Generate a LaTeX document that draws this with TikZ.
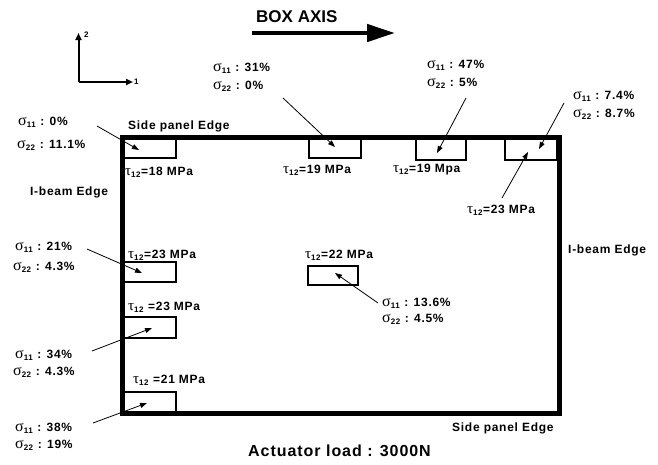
\documentclass[tikz,border=0pt]{standalone}
\usepackage{fontspec}
\setmainfont{Liberation Sans}
\newfontfamily\lblfont{Liberation Sans}[LetterSpace=6]
\newfontfamily\bigfont{Liberation Sans}[LetterSpace=6]
\newfontfamily\grk{Liberation Serif}
\usetikzlibrary{arrows.meta}
\newcommand\sgm[1]{{\mdseries\grk\fontsize{16}{16}\selectfont σ}\textsubscript{#1}}
\newcommand\tauu[1]{{\mdseries\grk\fontsize{15}{15}\selectfont τ}\textsubscript{#1}}
\tikzset{
  lbl/.style={anchor=west,inner sep=0pt,font=\lblfont\bfseries\fontsize{12}{13}\selectfont},
  sbox/.style={draw,line width=2pt,inner sep=0pt},
  frame/.style={draw,line width=5pt,inner sep=0pt},
  ptr/.style={line width=0.8pt,-{Triangle[length=7pt,width=5pt]}},
  axarrow/.style={line width=2pt,-{Triangle[length=7pt,width=6pt]}},
}
\begin{document}
\begin{tikzpicture}[x=1pt,y=-1pt]
\useasboundingbox (0,0) rectangle (658,464);
% main frame
\node[frame,minimum width=436.5pt,minimum height=275.5pt] (frm) at (340.75,275.25) {};
% small boxes
\node[sbox,minimum width=53pt,minimum height=20pt] (bA) at (149.5,148) {};
\node[sbox,minimum width=52pt,minimum height=20pt] (bB) at (335,148) {};
\node[sbox,minimum width=50pt,minimum height=22pt] (bC) at (441,149) {};
\node[sbox,minimum width=52pt,minimum height=22pt] (bD) at (531,149) {};
\node[sbox,minimum width=53pt,minimum height=20pt] (bE) at (149.5,272) {};
\node[sbox,minimum width=53pt,minimum height=21pt] (bF) at (149.5,327.5) {};
\node[sbox,minimum width=53pt,minimum height=21pt] (bG) at (149.5,402.5) {};
\node[sbox,minimum width=50pt,minimum height=19pt] (bH) at (333,275.5) {};
% coordinate axes
\coordinate (o) at (78.5,82);
\coordinate (ax2) at (78.5,33);
\coordinate (ax1) at (133,82);
\draw[axarrow] (o) -- (ax2);
\draw[axarrow] (o) -- (ax1);
\node[anchor=west,inner sep=0pt,font=\bfseries\fontsize{8}{9}\selectfont] (l2) at (84,35) {2};
\node[anchor=west,inner sep=0pt,font=\bfseries\fontsize{8}{9}\selectfont] (l1) at (134,82) {1};
% box axis
\node[anchor=west,inner sep=0pt,font=\bfseries\fontsize{17}{18}\selectfont] (bax) at (256,17) {BOX AXIS};
\coordinate (ba0) at (252,33);
\coordinate (ba1) at (395,33);
\draw[line width=4.5pt,-{Triangle[length=28pt,width=17pt]}] (ba0) -- (ba1);
% labels
\node[lbl] (sA1) at (18,122) {\sgm{11} : 0\%};
\node[lbl] (sA2) at (17,145) {\sgm{22} : 11.1\%};
\node[lbl] (side1) at (128,126) {Side panel Edge};
\node[lbl] (tA) at (125,172) {\tauu{12}=18 MPa};
\node[lbl] (ib1) at (30,192) {I-beam Edge};
\node[lbl] (sB1) at (213,68) {\sgm{11} : 31\%};
\node[lbl] (sB2) at (213,86) {\sgm{22} : 0\%};
\node[lbl] (tB) at (283,170) {\tauu{12}=19 MPa};
\node[lbl] (sC1) at (427,65) {\sgm{11} : 47\%};
\node[lbl] (sC2) at (427,83) {\sgm{22} : 5\%};
\node[lbl] (tC) at (393,170) {\tauu{12}=19 Mpa};
\node[lbl] (sD1) at (573,96) {\sgm{11} : 7.4\%};
\node[lbl] (sD2) at (573,114) {\sgm{22} : 8.7\%};
\node[lbl] (tD) at (467,210) {\tauu{12}=23 MPa};
\node[lbl] (ib2) at (568,250) {I-beam Edge};
\node[lbl] (sE1) at (15,247) {\sgm{11} : 21\%};
\node[lbl] (sE2) at (13,267) {\sgm{22} : 4.3\%};
\node[lbl] (tE) at (128,255) {\tauu{12}=23 MPa};
\node[lbl] (tF) at (128,307) {\tauu{12} =23 MPa};
\node[lbl] (sF1) at (15,355) {\sgm{11} : 34\%};
\node[lbl] (sF2) at (13,372) {\sgm{22} : 4.3\%};
\node[lbl] (tG) at (133,380) {\tauu{12} =21 MPa};
\node[lbl] (sG1) at (15,428) {\sgm{11} : 38\%};
\node[lbl] (sG2) at (15,445) {\sgm{22} : 19\%};
\node[lbl] (tH) at (305,255) {\tauu{12}=22 MPa};
\node[lbl] (sH1) at (382,303) {\sgm{11} : 13.6\%};
\node[lbl] (sH2) at (382,319) {\sgm{22} : 4.5\%};
\node[lbl] (side2) at (452,428) {Side panel Edge};
\node[anchor=west,inner sep=0pt,font=\bigfont\bfseries\fontsize{16}{17}\selectfont] (act) at (248,451) {Actuator load : 3000N};
% pointer arrows
\coordinate (pA0) at (97,126);  \coordinate (pA1) at (139,150);
\coordinate (pB0) at (283,98);  \coordinate (pB1) at (335,147);
\coordinate (pC0) at (466,98);  \coordinate (pC1) at (437,153);
\coordinate (pD0) at (564,103); \coordinate (pD1) at (539,149);
\coordinate (pT0) at (502,198); \coordinate (pT1) at (528,152);
\coordinate (pE0) at (87,249);  \coordinate (pE1) at (142,273);
\coordinate (pF0) at (92,351);  \coordinate (pF1) at (152,328);
\coordinate (pG0) at (93,423);  \coordinate (pG1) at (147,403);
\coordinate (pH0) at (378,303); \coordinate (pH1) at (335,273);
\draw[ptr] (pA0) -- (pA1);
\draw[ptr] (pB0) -- (pB1);
\draw[ptr] (pC0) -- (pC1);
\draw[ptr] (pD0) -- (pD1);
\draw[ptr] (pT0) -- (pT1);
\draw[ptr] (pE0) -- (pE1);
\draw[ptr] (pF0) -- (pF1);
\draw[ptr] (pG0) -- (pG1);
\draw[ptr] (pH0) -- (pH1);
\end{tikzpicture}
\end{document}
